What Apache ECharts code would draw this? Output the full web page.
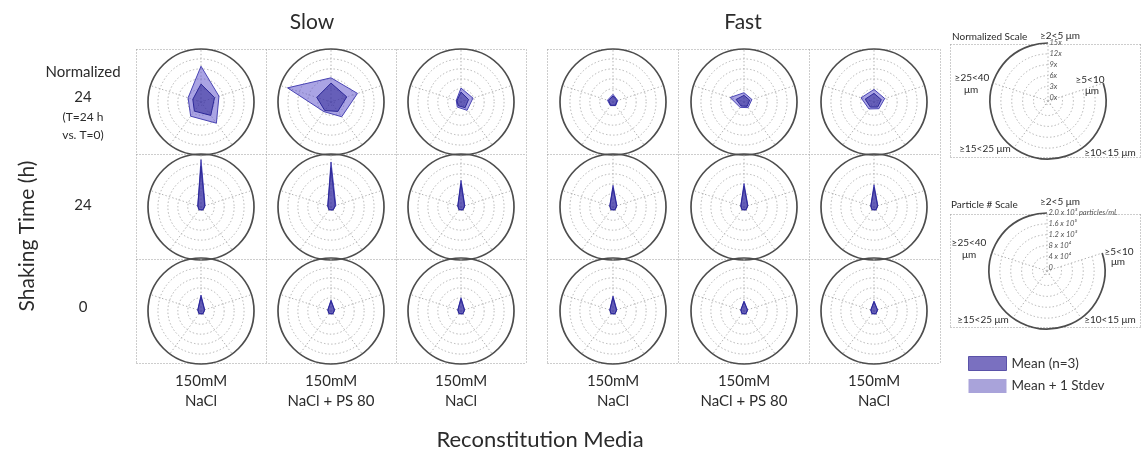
<!DOCTYPE html>
<html><head><meta charset="utf-8">
<script src="https://cdn.jsdelivr.net/npm/echarts@6/dist/echarts.min.js"></script>
<style>html,body{margin:0;padding:0;background:#fff}#c{width:1143px;height:462px}</style>
</head><body><div id="c"></div>
<script>
// ---------- data ----------
const sizeBins = ['≥2<5 μm','≥5<10 μm','≥10<15 μm','≥15<25 μm','≥25<40 μm'];
const speeds = ['Slow','Fast'];
const mediaLine1 = ['150mM','150mM','150mM'];
const mediaLine2 = ['NaCl','NaCl + PS 80','NaCl'];
const rowLabels = ['24','24','0'];
const normTicks = [0,3,6,9,12,15];
const normTickLabels = ['0x','3x','6x','9x','12x','15x'];
const countTicks = [0,40000,80000,120000,160000,200000];
const countTickLabels = ['0','4 x 10⁴','8 x 10⁴','1.2 x 10⁵','1.6 x 10⁵','2.0 x 10⁵ particles/mL'];

// Normalized (T=24 h vs. T=0), fold change; order of values follows sizeBins
const slowNormMean  = [[4.4,3.3,4.0,2.4,1.6],[4.7,4.0,2.5,2.2,3.5],[2.0,1.4,1.1,0.4,0.3]];
const slowNormStdev = [[9.8,4.7,6.9,4.3,3.1],[6.3,7.4,4.5,2.6,12.8],[3.2,2.8,2.1,0.9,0.5]];
const fastNormMean  = [[0.8,0.3,0.2,0.2,0.4],[1.0,0.8,0.6,0.5,1.5],[1.6,1.3,0.9,0.9,1.8]];
const fastNormStdev = [[1.3,0.5,0.35,0.35,0.75],[1.8,1.5,1.1,1.0,3.4],[2.8,2.4,1.5,1.6,3.1]];
// particles/mL after 24 h shaking
const slow24Mean  = [[150000,2500,600,300,150],[145000,4500,900,400,200],[80000,1800,500,250,100]];
const slow24Stdev = [[177000,4000,900,450,250],[168000,7000,1400,600,300],[94000,2800,800,400,200]];
const fast24Mean  = [[64000,2000,500,250,100],[70000,2000,500,250,100],[65000,1800,500,250,100]];
const fast24Stdev = [[74000,3200,800,400,200],[81000,3200,800,400,200],[76000,3000,800,400,200]];
// particles/mL at 0 h
const slow0Mean  = [[44000,1500,400,200,100],[26000,1200,300,150,80],[34000,1200,300,150,80]];
const slow0Stdev = [[51000,2400,600,300,150],[31000,1800,450,220,120],[40000,1800,450,220,120]];
const fast0Mean  = [[40000,1500,400,200,100],[23000,1200,300,150,80],[23000,1200,300,150,80]];
const fast0Stdev = [[47000,2400,600,300,150],[27000,1800,450,220,120],[27000,1800,450,220,120]];

// ---------- layout ----------
const FONT = 'Lato';
const colX = [[201,331,461],[613,744,874]];
const rowY = [102,207,311];
const R = 53;
const rows = [
  {ticks: normTicks, mean:[slowNormMean, fastNormMean], sd:[slowNormStdev, fastNormStdev]},
  {ticks: countTicks, mean:[slow24Mean, fast24Mean], sd:[slow24Stdev, fast24Stdev]},
  {ticks: countTicks, mean:[slow0Mean, fast0Mean], sd:[slow0Stdev, fast0Stdev]}
];
const N = sizeBins.length;
const polar = [], angleAxis = [], radiusAxis = [], series = [];
const GRID = '#b2b2b2', DASH = [1.4, 2.2];

function ringRenderer(ticks, partial){
  return function(params, api){
    const cs = params.coordSys;
    const v = api.value(0);
    const p = api.coord([v, 0]);
    const rr = Math.hypot(p[0]-cs.cx, p[1]-cs.cy);
    const outer = params.dataIndex === ticks.length - 1;
    const style = {fill:'none', stroke: outer ? '#4d4d4d' : GRID, lineWidth: outer ? 1.7 : 1, lineDash: outer ? null : DASH};
    if (partial) {
      const a0 = api.coord([v, 0]), a1 = api.coord([v, 360/N]);
      const s = Math.atan2(a1[1]-cs.cy, a1[0]-cs.cx);
      let e = Math.atan2(a0[1]-cs.cy, a0[0]-cs.cx);
      while (e <= s) e += 2*Math.PI;
      return {type:'arc', shape:{cx:cs.cx, cy:cs.cy, r:rr, startAngle:s, endAngle:e, clockwise:true}, style};
    }
    return {type:'circle', shape:{cx:cs.cx, cy:cs.cy, r:rr}, style};
  };
}
function spokeRenderer(params, api){
  const cs = params.coordSys;
  const p = api.coord([api.value(0), api.value(1)]);
  return {type:'line', shape:{x1:cs.cx, y1:cs.cy, x2:p[0], y2:p[1]}, style:{stroke:GRID, lineWidth:1, lineDash:DASH}};
}
function polyRenderer(fill, stroke){
  return function(params, api){
    const pts = sizeBins.map((b,i) => api.coord([api.value(i), i*360/N]));
    return {type:'polygon', shape:{points:pts}, style:{fill, stroke, lineWidth:1, lineJoin:'miter'}};
  };
}
function addPolar(cx, cy, r, ticks){
  const k = polar.length;
  const max = ticks[ticks.length-1];
  polar.push({center:[cx, cy], radius:r});
  angleAxis.push({polarIndex:k, type:'value', min:0, max:360, startAngle:90, clockwise:true, show:false});
  radiusAxis.push({polarIndex:k, type:'value', min:-max/15, max:max, show:false});
  return k;
}
function addFrame(k, ticks, partial){
  const max = ticks[ticks.length-1];
  series.push({type:'custom', coordinateSystem:'polar', polarIndex:k, silent:true, z:1,
    data: ticks.map(v => [v, 0]), renderItem: ringRenderer(ticks, partial)});
  series.push({type:'custom', coordinateSystem:'polar', polarIndex:k, silent:true, z:1,
    data: sizeBins.map((b,i) => [max, i*360/N]), renderItem: spokeRenderer});
}

for (let ri = 0; ri < 3; ri++) {
  for (let si = 0; si < 2; si++) {
    for (let ci = 0; ci < 3; ci++) {
      const row = rows[ri];
      const k = addPolar(colX[si][ci], rowY[ri], R, row.ticks);
      addFrame(k, row.ticks, false);
      series.push({type:'custom', name:'Mean + 1 Stdev', coordinateSystem:'polar', polarIndex:k, z:3,
        itemStyle:{color:'#a9a3da'},
        data:[row.sd[si][ci]], renderItem: polyRenderer('rgba(100,90,205,0.55)', '#4a45b4')});
      series.push({type:'custom', name:'Mean (n=3)', coordinateSystem:'polar', polarIndex:k, z:4,
        itemStyle:{color:'#7a70c0'},
        data:[row.mean[si][ci]], renderItem: polyRenderer('rgba(45,38,150,0.55)', '#2c2898')});
    }
  }
}

// scale keys
function addScale(cx, cy, r, ticks, labels){
  const k = addPolar(cx, cy, r, ticks);
  addFrame(k, ticks, true);
  series.push({type:'custom', coordinateSystem:'polar', polarIndex:k, silent:true, z:5,
    data: ticks.map(v => [v, 0]),
    renderItem: function(params, api){
      const p = api.coord([api.value(0), 0]);
      return {type:'text', x:p[0]+1.5, y:p[1],
        style:{text: labels[params.dataIndex], fill:'#555', fontSize:7.5, fontStyle:'italic', fontFamily:FONT,
               align:'left', verticalAlign:'middle'}};
    }});
}
addScale(1048, 101, 58, normTicks, normTickLabels);
addScale(1047, 271, 58, countTicks, countTickLabels);

// ---------- text & frames ----------
const G = [];
function txt(x, y, text, size, align){
  G.push({type:'text', x, y, silent:true, z:10,
    style:{text, fontSize:size, fontFamily:FONT, fill:'#2b2b2b', align: align || 'center', verticalAlign:'middle'}});
}
function dline(x1,y1,x2,y2){
  G.push({type:'line', silent:true, z:0, shape:{x1,y1,x2,y2}, style:{stroke:'#9a9a9a', lineWidth:1, lineDash:[1,2]}});
}
function drect(x,y,w,h){ dline(x,y,x+w,y); dline(x,y+h,x+w,y+h); dline(x,y,x,y+h); dline(x+w,y,x+w,y+h); }

drect(136.5, 49.5, 390, 314); dline(266.5,49.5,266.5,363.5); dline(396.5,49.5,396.5,363.5);
dline(136.5,154.5,526.5,154.5); dline(136.5,259.5,526.5,259.5);
drect(547.5, 49.5, 393, 314); dline(678.5,49.5,678.5,363.5); dline(809.5,49.5,809.5,363.5);
dline(547.5,154.5,940.5,154.5); dline(547.5,259.5,940.5,259.5);
drect(950.5, 44.5, 190, 113);
drect(950.5, 214.5, 190, 113);

txt(312, 22, speeds[0], 21);
txt(743, 22, speeds[1], 21);
txt(83, 72, 'Normalized', 15);
txt(83, 97, rowLabels[0], 15);
txt(83, 117, '(T=24 h', 12);
txt(83, 135, 'vs. T=0)', 12);
txt(83, 205, rowLabels[1], 15);
txt(83, 307, rowLabels[2], 15);
G.push({type:'text', x:27, y:236, rotation:Math.PI/2, silent:true, z:10,
  style:{text:'Shaking Time (h)', fontSize:21, fontFamily:FONT, fill:'#2b2b2b', align:'center', verticalAlign:'middle'}});
for (let si = 0; si < 2; si++) for (let ci = 0; ci < 3; ci++) {
  txt(colX[si][ci], 381, mediaLine1[ci], 15);
  txt(colX[si][ci], 401, mediaLine2[ci], 15);
}
txt(540, 440, 'Reconstitution Media', 22);

// scale key labels
txt(952, 37, 'Normalized Scale', 10, 'left');
txt(1060, 36, sizeBins[0], 10);
txt(972, 78, '≥25<40', 10); txt(971, 90, 'μm', 10);
txt(1090, 80, '≥5<10', 10); txt(1092, 91, 'μm', 10);
txt(985, 149, sizeBins[3], 10);
txt(1110, 153, sizeBins[2], 10);

txt(951, 205, 'Particle # Scale', 10, 'left');
txt(1060, 202, sizeBins[0], 10);
txt(969, 243, '≥25<40', 10); txt(969, 255, 'μm', 10);
txt(1119, 252, '≥5<10', 10); txt(1118, 262, 'μm', 10);
txt(983, 320, sizeBins[3], 10);
txt(1110, 320, sizeBins[2], 10);

const chart = echarts.init(document.getElementById('c'), null, {renderer:'canvas'});
chart.setOption({
  animation:false,
  backgroundColor:'#fff',
  polar, angleAxis, radiusAxis, series,
  legend:{
    orient:'vertical', left:963, top:351, itemWidth:38, itemHeight:14, itemGap:8, icon:'rect',
    selectedMode:false,
    textStyle:{fontSize:13.5, fontFamily:FONT, color:'#333'},
    data:[
      {name:'Mean (n=3)', itemStyle:{color:'#7a70c0', borderColor:'#5a52a8', borderWidth:1}},
      {name:'Mean + 1 Stdev', itemStyle:{color:'#a9a3da', borderWidth:0}}
    ]
  },
  graphic: G
});
</script></body></html>
